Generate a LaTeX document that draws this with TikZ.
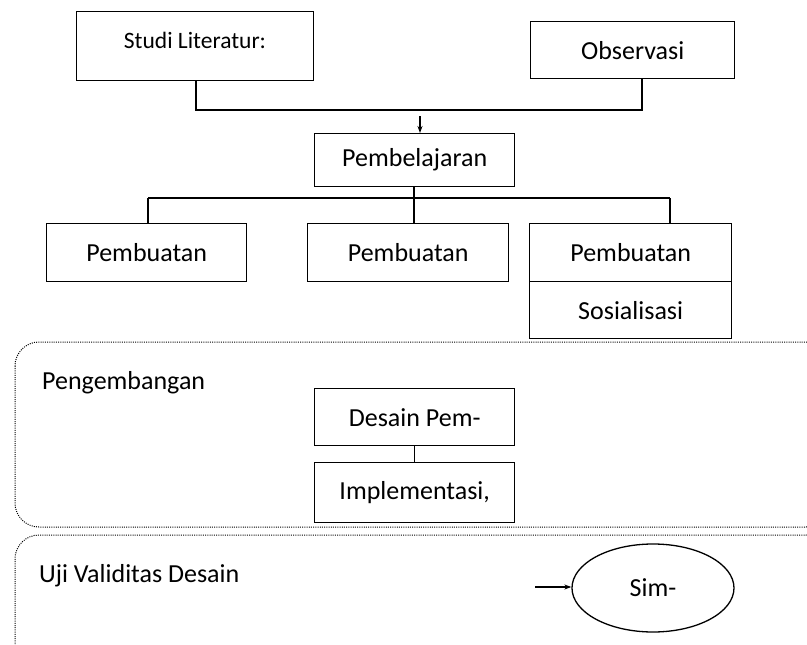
\documentclass[tikz,border=0pt]{standalone}
\usepackage{fontspec}
\setmainfont{Carlito}
\usetikzlibrary{arrows.meta,shapes.geometric}
\begin{document}
\begin{tikzpicture}[x=1pt,y=-1pt,
  box/.style={draw,line width=1.4pt,rectangle,inner sep=0pt,anchor=north west,font=\fontsize{26}{30}\selectfont},
  link/.style={line width=1.4pt},
  group/.style={draw,line width=1pt,dash pattern=on 1pt off 1.2pt,rounded corners=24pt},
  tip/.style={-{Stealth[length=7pt,width=5pt]},line width=1.3pt},
  heading/.style={anchor=base west,inner sep=0pt,font=\fontsize{26}{30}\selectfont}]
\useasboundingbox (0,0) rectangle (807,645);
\clip (0,0) rectangle (807,645);

% sources
\node[box,minimum width=237,minimum height=69] (lit) at (76,11) {};
\node[anchor=base,inner sep=0pt,font=\fontsize{23.5}{28}\selectfont] (littext) at (195,48) {Studi Literatur:};
\node[box,minimum width=204,minimum height=57] (obs) at (530,21) {Observasi};
\coordinate (jl) at (196,110);
\coordinate (jr) at (642,110);
\draw[link] (lit.south -| jl) -- (jl) -- (jr) -- (obs.south -| jr);

% learning stage
\node[box,minimum width=200,minimum height=53] (learn) at (314,133) {Pembelajaran};
\coordinate (a0) at (420,116);
\draw[tip] (a0) -- (a0 |- learn.north);

\node[box,minimum width=200,minimum height=58] (p1) at (46,223) {Pembuatan};
\node[box,minimum width=201,minimum height=58] (p2) at (307,223) {Pembuatan};
\node[box,minimum width=202,minimum height=58] (p3) at (529,223) {Pembuatan};
\node[box,minimum width=202,minimum height=57] (sos) at (529,281) {Sosialisasi};

\coordinate (bl) at (148,198);
\coordinate (bm) at (414,198);
\coordinate (br) at (670,198);
\draw[link] (learn.south -| bm) -- (bm);
\draw[link] (bl) -- (br);
\draw[link] (bl) -- (bl |- p1.north);
\draw[link] (bm) -- (bm |- p2.north);
\draw[link] (br) -- (br |- p3.north);

% development group
\draw[group] (15,342) rectangle (830,527);
\node[heading] (dev) at (42,389) {Pengembangan};
\node[box,minimum width=200,minimum height=57] (des) at (314,388) {Desain Pem-};
\node[box,minimum width=200,minimum height=60] (imp) at (314,462) {Implementasi,};
\draw[line width=0.8pt] (des.south -| 414,0) -- (imp.north -| 414,0);

% validation group
\draw[group] (15,535) rectangle (830,700);
\node[heading] (val) at (39,582) {Uji Validitas Desain};
\node[draw,ellipse,line width=1.3pt,minimum width=162,minimum height=88,inner sep=0pt,font=\fontsize{26}{30}\selectfont] (sim) at (653,588) {Sim-};
\coordinate (a1) at (535,587);
\draw[tip] (a1) -- (a1 -| sim.west);
\end{tikzpicture}
\end{document}
